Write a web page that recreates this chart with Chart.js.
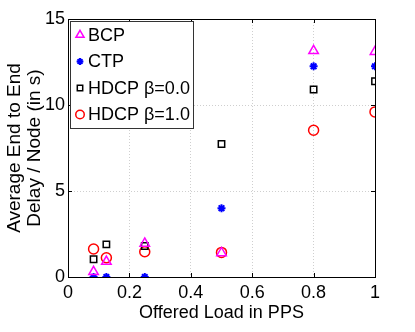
<!DOCTYPE html>
<html>
<head>
<meta charset="utf-8">
<script src="https://cdn.jsdelivr.net/npm/chart.js@4/dist/chart.umd.min.js"></script>
<style>
  html, body { margin: 0; padding: 0; background: #fff; }
  #wrap { width: 415px; height: 332px; }
</style>
</head>
<body>
<div id="wrap"><canvas id="grafico" width="415" height="332"></canvas></div>
<script>
// datos
const cargas = [0.0833, 0.125, 0.25, 0.5, 0.8, 1.0];
const bcp = [0.3, 0.9, 1.95, 1.4, 13.15, 13.1];
const ctp = [0.0, 0.0, 0.0, 4.0, 12.25, 12.25];
const hdcp0 = [1.03, 1.9, 1.8, 7.73, 10.9, 11.38];
const hdcp1 = [1.63, 1.12, 1.47, 1.43, 8.53, 9.6];
const etiquetas = ['BCP', 'CTP', 'HDCP \u03b2=0.0', 'HDCP \u03b2=1.0'];
const ticksX = [0, 0.2, 0.4, 0.6, 0.8, 1];
const ticksY = [0, 5, 10, 15];

const fuente = 'Liberation Sans, Arial, Helvetica, sans-serif';

function puntos(ys) {
    return cargas.map((x, i) => ({ x: x, y: ys[i] }));
}

const estilos = [
    { color: '#ff00ff', forma: 'triangle', r: 5.5 },
    { color: '#0000ff', forma: 'star', r: 4 },
    { color: '#000000', forma: 'rect', r: 4.5 },
    { color: '#ff0000', forma: 'circle', r: 5 }
];
const series = [bcp, ctp, hdcp0, hdcp1];

const datasets = series.map((s, i) => ({
    label: etiquetas[i],
    data: puntos(s),
    pointStyle: estilos[i].forma,
    pointRadius: estilos[i].r,
    pointBorderColor: estilos[i].color,
    pointBackgroundColor: estilos[i].forma === 'star' ? estilos[i].color : 'rgba(0,0,0,0)',
    pointBorderWidth: estilos[i].forma === 'star' ? 2 : 1.5,
    showLine: false
}));

// marco y leyenda dibujados encima
const marcoYLeyenda = {
    id: 'marcoYLeyenda',
    afterDraw(chart) {
        const ctx = chart.ctx;
        const a = chart.chartArea;
        ctx.save();
        ctx.strokeStyle = '#000';
        ctx.lineWidth = 1;
        ctx.strokeRect(a.left + 0.5, a.top + 0.5, a.right - a.left, a.bottom - a.top);

        // marcas de ticks hacia dentro
        const sx = chart.scales.x, sy = chart.scales.y;
        ctx.beginPath();
        ticksX.forEach(v => {
            const px = Math.round(sx.getPixelForValue(v)) + 0.5;
            ctx.moveTo(px, a.bottom); ctx.lineTo(px, a.bottom - 4);
            ctx.moveTo(px, a.top); ctx.lineTo(px, a.top + 4);
        });
        ticksY.forEach(v => {
            const py = Math.round(sy.getPixelForValue(v)) + 0.5;
            ctx.moveTo(a.left, py); ctx.lineTo(a.left + 4, py);
            ctx.moveTo(a.right, py); ctx.lineTo(a.right - 4, py);
        });
        ctx.stroke();

        // leyenda
        const lx = 70, ly = 21, lw = 123, lh = 107;
        ctx.fillStyle = '#fff';
        ctx.fillRect(lx, ly, lw, lh);
        ctx.strokeStyle = '#333';
        ctx.strokeRect(lx + 0.5, ly + 0.5, lw, lh);
        ctx.font = '18px ' + fuente;
        ctx.textBaseline = 'middle';
        ctx.fillStyle = '#000';
        etiquetas.forEach((t, i) => {
            const y = ly + 14 + i * 26.5;
            const e = estilos[i];
            ctx.lineWidth = estilos[i].forma === 'star' ? 2 : 1.5;
            ctx.strokeStyle = e.color;
            ctx.fillStyle = e.forma === 'star' ? e.color : 'rgba(0,0,0,0)';
            Chart.helpers.drawPoint(ctx, { pointStyle: e.forma, radius: e.r * 0.85, borderWidth: ctx.lineWidth, rotation: 0 }, lx + 10, y);
            ctx.fillStyle = '#000';
            ctx.fillText(t, lx + 18, y + 1);
        });
        ctx.restore();
    }
};

new Chart(document.getElementById('grafico').getContext('2d'), {
    type: 'scatter',
    data: { datasets: datasets },
    options: {
        responsive: false,
        animation: false,
        layout: { padding: { left: 0, top: 19, right: 40, bottom: 0 } },
        plugins: {
            legend: { display: false },
            tooltip: { enabled: false }
        },
        scales: {
            x: {
                type: 'linear',
                min: 0,
                max: 1,
                afterBuildTicks: s => { s.ticks = ticksX.map(v => ({ value: v })); },
                afterFit: s => { s.height = 55; },
                ticks: {
                    color: '#000',
                    padding: 5,
                    font: { family: fuente, size: 18 },
                    callback: v => String(v)
                },
                grid: {
                    drawTicks: false,
                    color: c => (c.tick && (c.tick.value === 0 || c.tick.value === 1)) ? 'rgba(0,0,0,0)' : '#cfcfcf'
                },
                border: { display: false, dash: [1, 2] },
                title: {
                    display: true,
                    text: 'Offered Load in PPS',
                    color: '#000',
                    font: { family: fuente, size: 18 },
                    padding: { top: 0, bottom: 8 }
                }
            },
            y: {
                type: 'linear',
                min: 0,
                max: 15,
                afterBuildTicks: s => { s.ticks = ticksY.map(v => ({ value: v })); },
                afterFit: s => { s.width = 68; },
                ticks: {
                    color: '#000',
                    padding: 3,
                    font: { family: fuente, size: 18 }
                },
                grid: {
                    drawTicks: false,
                    color: c => (c.tick && (c.tick.value === 0 || c.tick.value === 15)) ? 'rgba(0,0,0,0)' : '#cfcfcf'
                },
                border: { display: false, dash: [1, 2] },
                title: {
                    display: true,
                    text: ['Average End to End', 'Delay / Node (in s)'],
                    color: '#000',
                    font: { family: fuente, size: 19, lineHeight: 1.05 },
                    padding: { top: 5, bottom: 0 }
                }
            }
        }
    },
    plugins: [marcoYLeyenda]
});
</script>
</body>
</html>
